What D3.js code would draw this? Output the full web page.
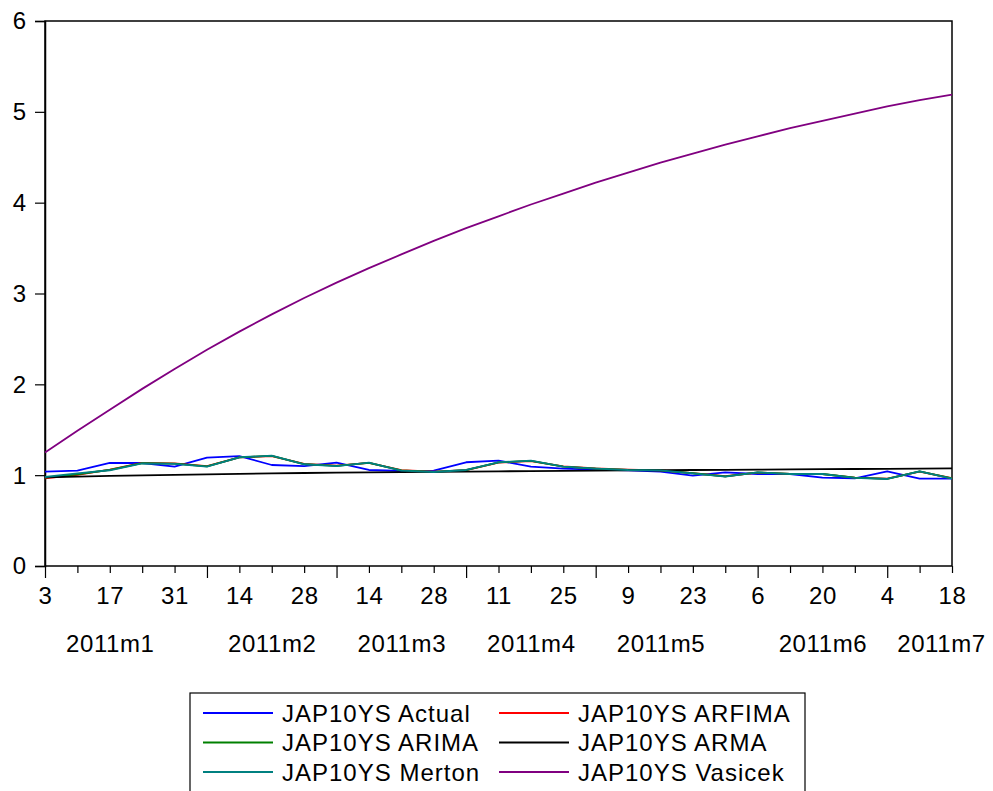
<!DOCTYPE html>
<html>
<head>
<meta charset="utf-8">
<script src="https://cdn.jsdelivr.net/npm/d3@7"></script>
<style>
  html, body { margin: 0; padding: 0; background: #fff; }
  svg { display: block; }
  text { font-family: "Liberation Sans", Arial, sans-serif; fill: #000; }
</style>
</head>
<body>
<svg id="chart" width="993" height="791"></svg>
<script>
// ---- data ----
const weeks = [
  "2011-01-03","2011-01-10","2011-01-17","2011-01-24","2011-01-31",
  "2011-02-07","2011-02-14","2011-02-21","2011-02-28",
  "2011-03-07","2011-03-14","2011-03-21","2011-03-28",
  "2011-04-04","2011-04-11","2011-04-18","2011-04-25",
  "2011-05-02","2011-05-09","2011-05-16","2011-05-23","2011-05-30",
  "2011-06-06","2011-06-13","2011-06-20","2011-06-27",
  "2011-07-04","2011-07-11","2011-07-18"
];
const monthLabels = ["2011m1","2011m2","2011m3","2011m4","2011m5","2011m6","2011m7"];
const monthLabelAt = [2, 7, 11, 15, 19, 24, 27.66];   // week index the label is centred on
const yTicks = [0, 1, 2, 3, 4, 5, 6];

const actual  = [1.040,1.050,1.134,1.134,1.094,1.193,1.210,1.112,1.100,1.138,1.057,1.046,1.050,1.142,1.160,1.094,1.072,1.061,1.054,1.039,0.995,1.031,1.013,1.013,0.973,0.966,1.043,0.962,0.962];
const arfima  = [0.965,1.003,1.062,1.135,1.130,1.100,1.195,1.210,1.125,1.105,1.135,1.055,1.040,1.055,1.138,1.155,1.096,1.074,1.060,1.052,1.022,0.988,1.029,1.015,1.012,0.974,0.962,1.040,0.966];
const arima   = [0.972,1.010,1.058,1.132,1.127,1.097,1.196,1.213,1.122,1.102,1.136,1.052,1.037,1.056,1.140,1.158,1.095,1.073,1.058,1.053,1.021,0.986,1.030,1.014,1.013,0.972,0.960,1.042,0.964];
const arma    = [0.977,0.985,0.992,0.998,1.004,1.009,1.014,1.019,1.024,1.028,1.031,1.034,1.037,1.040,1.042,1.045,1.047,1.050,1.052,1.054,1.057,1.059,1.061,1.064,1.066,1.068,1.070,1.073,1.075];
const merton  = [0.980,1.020,1.054,1.130,1.125,1.094,1.197,1.215,1.120,1.100,1.138,1.050,1.035,1.057,1.142,1.160,1.094,1.072,1.057,1.053,1.020,0.984,1.031,1.013,1.013,0.970,0.958,1.043,0.962];
const vasicek = [1.25,1.49,1.72,1.95,2.17,2.38,2.58,2.77,2.95,3.12,3.28,3.43,3.58,3.72,3.85,3.98,4.10,4.22,4.33,4.44,4.54,4.64,4.73,4.82,4.90,4.98,5.06,5.13,5.19];

const seriesNames  = ["JAP10YS Actual","JAP10YS ARFIMA","JAP10YS ARIMA","JAP10YS ARMA","JAP10YS Merton","JAP10YS Vasicek"];
const seriesValues = [actual, arfima, arima, arma, merton, vasicek];
const seriesColors = ["#0000ff","#ff0000","#008000","#000000","#008080","#800080"];

(function () {
  // ---- layout ----
  const svg = d3.select("#chart");
  const pL = 45, pR = 952, pT = 21, pB = 566;
  const FS = 24;
  const FF = "Liberation Sans, Arial, sans-serif";

  const parse = d3.timeParse("%Y-%m-%d");
  const dates = weeks.map(parse);
  const idx = d3.range(weeks.length);

  const x = d3.scaleLinear().domain([0, weeks.length - 1]).range([pL, pR]);
  const y = d3.scaleLinear().domain([0, 6]).range([pB, pT]);

  // frame
  svg.append("rect")
    .attr("x", pL).attr("y", pT)
    .attr("width", pR - pL).attr("height", pB - pT)
    .attr("fill", "none").attr("stroke", "#000").attr("stroke-width", 1.5);

  // y axis
  const yAxis = svg.append("g")
    .attr("transform", `translate(${pL},0)`)
    .call(d3.axisLeft(y).tickValues(yTicks).tickFormat(d3.format("d")).tickSize(10).tickPadding(9));
  yAxis.select(".domain").attr("stroke", "#000").attr("stroke-width", 1.5);
  yAxis.selectAll(".tick line").attr("stroke", "#000").attr("stroke-width", 1.2);
  yAxis.selectAll(".tick text").attr("font-size", FS).attr("font-family", FF)
    .attr("fill", "#000").attr("dy", "0.33em");

  // x axis: short ticks every week
  const monthStarts = idx.filter(i => i === 0 || dates[i].getMonth() !== dates[i - 1].getMonth());
  const minorIdx = idx.filter(i => !monthStarts.includes(i));
  const xMinor = svg.append("g")
    .attr("transform", `translate(0,${pB})`)
    .call(d3.axisBottom(x).tickValues(minorIdx).tickFormat("").tickSize(7));
  xMinor.select(".domain").remove();
  xMinor.selectAll(".tick line").attr("stroke", "#000").attr("stroke-width", 1.2);

  // long ticks at first week of each month
  const xMajor = svg.append("g")
    .attr("transform", `translate(0,${pB})`)
    .call(d3.axisBottom(x).tickValues(monthStarts).tickFormat("").tickSize(12));
  xMajor.select(".domain").remove();
  xMajor.selectAll(".tick line").attr("stroke", "#000").attr("stroke-width", 1.2);

  // day labels every second week
  const dayFmt = d3.timeFormat("%-d");
  const labelIdx = idx.filter(i => i % 2 === 0);
  const xLab = svg.append("g")
    .attr("transform", `translate(0,${pB})`)
    .call(d3.axisBottom(x).tickValues(labelIdx).tickFormat(i => dayFmt(dates[i])).tickSize(0).tickPadding(0));
  xLab.select(".domain").remove();
  xLab.selectAll(".tick text").attr("font-size", FS).attr("font-family", FF)
    .attr("fill", "#000").attr("dy", null).attr("y", 38).attr("letter-spacing", 0.6);

  // month labels
  const xMonth = svg.append("g")
    .attr("transform", `translate(0,${pB})`)
    .call(d3.axisBottom(x).tickValues(monthLabelAt).tickFormat((d, i) => monthLabels[i]).tickSize(0).tickPadding(0));
  xMonth.select(".domain").remove();
  xMonth.selectAll(".tick text").attr("font-size", FS).attr("font-family", FF)
    .attr("fill", "#000").attr("dy", null).attr("y", 86).attr("letter-spacing", 0.6);

  // series
  const line = d3.line().x((d, i) => x(i)).y(d => y(d));
  const plot = svg.append("g");
  seriesValues.forEach((vals, k) => {
    plot.append("path")
      .datum(vals)
      .attr("d", line)
      .attr("fill", "none")
      .attr("stroke", seriesColors[k])
      .attr("stroke-width", 1.8)
      .attr("stroke-linejoin", "round");
  });

  // legend
  const lg = svg.append("g");
  lg.append("rect")
    .attr("x", 190).attr("y", 693).attr("width", 615).attr("height", 120)
    .attr("fill", "#fff").attr("stroke", "#000").attr("stroke-width", 1.2);
  const rowY = [713, 742.5, 772];
  const colX = [203, 499];
  seriesNames.forEach((name, k) => {
    const col = k % 2, row = Math.floor(k / 2);
    const cx = colX[col], cy = rowY[row];
    lg.append("line")
      .attr("x1", cx).attr("x2", cx + 70).attr("y1", cy).attr("y2", cy)
      .attr("stroke", seriesColors[k]).attr("stroke-width", 1.8);
    lg.append("text")
      .attr("x", cx + 79).attr("y", cy + 8.5)
      .attr("font-size", FS).attr("font-family", FF)
      .attr("letter-spacing", 1)
      .text(name);
  });
})();
</script>
</body>
</html>
